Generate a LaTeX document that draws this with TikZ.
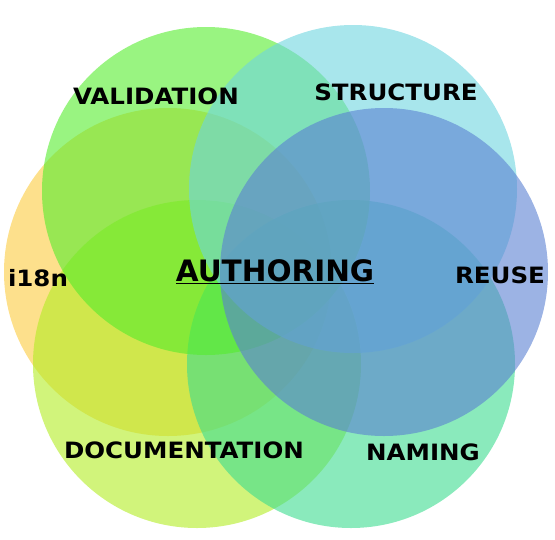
\documentclass[tikz,border=0pt]{standalone}
\usepackage{fontspec}
\setmainfont{DejaVu Sans}
\definecolor{i18ncol}{RGB}{252,203,63}
\definecolor{doccol}{RGB}{178,236,35}
\definecolor{namingcol}{RGB}{60,220,143}
\definecolor{validcol}{RGB}{85,236,45}
\definecolor{structcol}{RGB}{110,213,223}
\definecolor{reusecol}{RGB}{90,128,210}
\newcommand{\widen}[1]{\scalebox{1.09}[1]{#1}}
\tikzset{
  petal/.style={fill=#1, fill opacity=0.6},
  tag/.style={anchor=base, inner sep=0pt, font=\fontsize{22.5}{27}\selectfont\bfseries},
  hub/.style={anchor=base, inner sep=0pt, font=\fontsize{29.5}{35}\selectfont\bfseries}
}
\begin{document}
\begin{tikzpicture}[x=1pt,y=-1pt]
    \useasboundingbox (0,0) rectangle (555,539);
    %% six overlapping circles
    \fill[petal=i18ncol] (168,272) circle (164);
    \fill[petal=doccol] (197,364) circle (164);
    \fill[petal=namingcol] (351,364) circle (164);
    \fill[petal=validcol] (206,191) circle (164);
    \fill[petal=structcol] (353,189) circle (164);
    \fill[petal=reusecol] (384,272) circle (164);
    %% labels (placed by eye)
    \node[tag] (valid) at (156,104.3) {\widen{VALIDATION}};
    \node[tag] (struct) at (396,100) {\widen{STRUCTURE}};
    \node[tag] (i18n) at (38,286.7) {\widen{i18n}};
    \node[tag] (reuse) at (500,283.3) {\widen{REUSE}};
    \node[tag] (doc) at (184,458.3) {\widen{DOCUMENTATION}};
    \node[tag] (naming) at (423,460) {\widen{NAMING}};
    \node[hub] (auth) at (275,281.7) {\underline{AUTHORING}};
\end{tikzpicture}
\end{document}
